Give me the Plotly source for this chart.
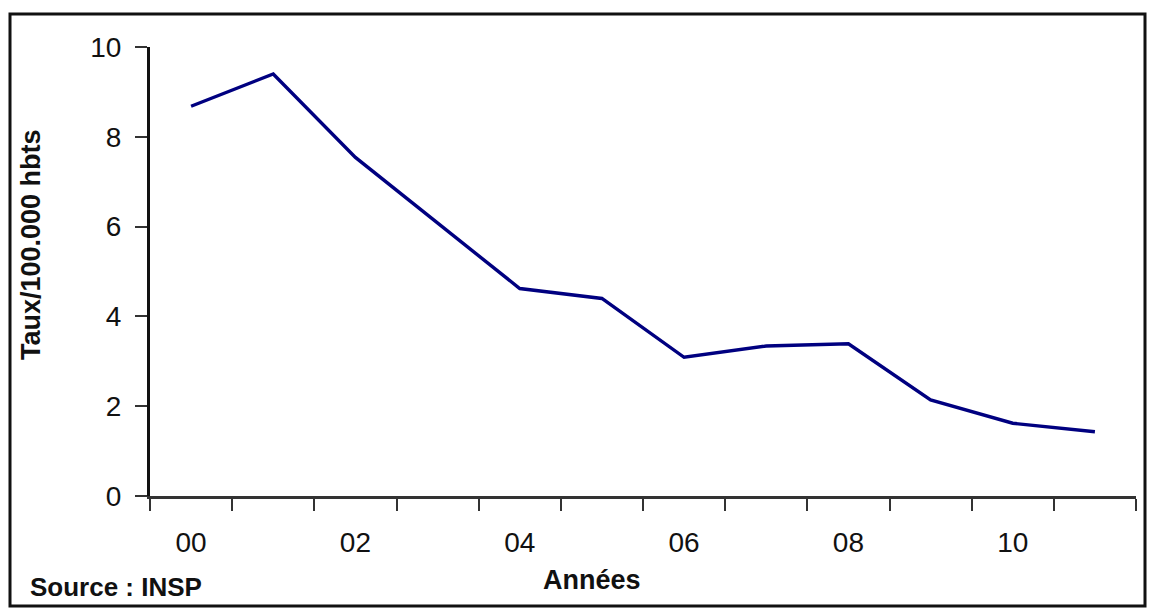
import plotly.graph_objects as go

years = ["2000", "2001", "2002", "2003", "2004", "2005",
         "2006", "2007", "2008", "2009", "2010", "2011"]
taux = [8.68, 9.40, 7.54, 6.09, 4.62, 4.40, 3.09, 3.34, 3.39, 2.14, 1.62, 1.43]
tick_labels = ["00", "", "02", "", "04", "", "06", "", "08", "", "10", ""]
y_ticks = [0, 2, 4, 6, 8, 10]

W, H = 1150, 608
L, R, T, B = 150, 14, 47, 112
pw, ph = W - L - R, H - T - B

def px(x):
    return (x - L) / pw

def py(y):
    return (H - B - y) / ph

fig = go.Figure()
fig.add_trace(go.Scatter(
    x=years, y=taux, mode="lines",
    line=dict(color="#000080", width=3.4),
    showlegend=False, hoverinfo="skip",
))

fontfam = "Liberation Sans, Arial, sans-serif"

fig.update_layout(
    width=W, height=H,
    margin=dict(l=L, r=R, t=T, b=B),
    paper_bgcolor="white", plot_bgcolor="white",
    font=dict(family=fontfam, color="#111"),
    xaxis=dict(
        type="category", tickmode="array", tickvals=years, ticktext=tick_labels,
        range=[-0.5, len(years) - 0.5],
        tickson="boundaries", ticks="outside", ticklen=12, tickwidth=2, tickcolor="#333",
        showline=True, linecolor="#333", linewidth=3,
        showgrid=False, zeroline=False,
        tickfont=dict(size=28, color="#111"),
        ticklabelstandoff=19,
    ),
    yaxis=dict(
        range=[0, 10], tickmode="array", tickvals=y_ticks,
        ticks="outside", ticklen=12, tickwidth=2, tickcolor="#333",
        showline=True, linecolor="#111", linewidth=3,
        showgrid=False, zeroline=False,
        tickfont=dict(size=28, color="#111"),
        ticklabelstandoff=8,
    ),
    annotations=[
        dict(text="<b>Taux/100.000 hbts</b>", textangle=-90,
             xref="paper", yref="paper", x=px(31), y=py(245),
             xanchor="center", yanchor="middle", showarrow=False,
             font=dict(size=27, color="#111")),
        dict(text="<b>Années</b>",
             xref="paper", yref="paper", x=px(592), y=py(580),
             xanchor="center", yanchor="middle", showarrow=False,
             font=dict(size=27, color="#111")),
        dict(text="<b>Source : INSP</b>",
             xref="paper", yref="paper", x=px(28), y=py(587),
             xanchor="left", yanchor="middle", showarrow=False,
             font=dict(size=26, color="#111")),
    ],
    shapes=[
        dict(type="rect", xref="paper", yref="paper",
             x0=px(10), x1=px(1145), y0=py(606), y1=py(14),
             line=dict(color="#111", width=3), fillcolor="rgba(0,0,0,0)"),
    ],
)

fig.write_html("out.html", config={"displayModeBar": False},
               post_script="document.body.style.margin='0';document.body.style.overflow='hidden';")
